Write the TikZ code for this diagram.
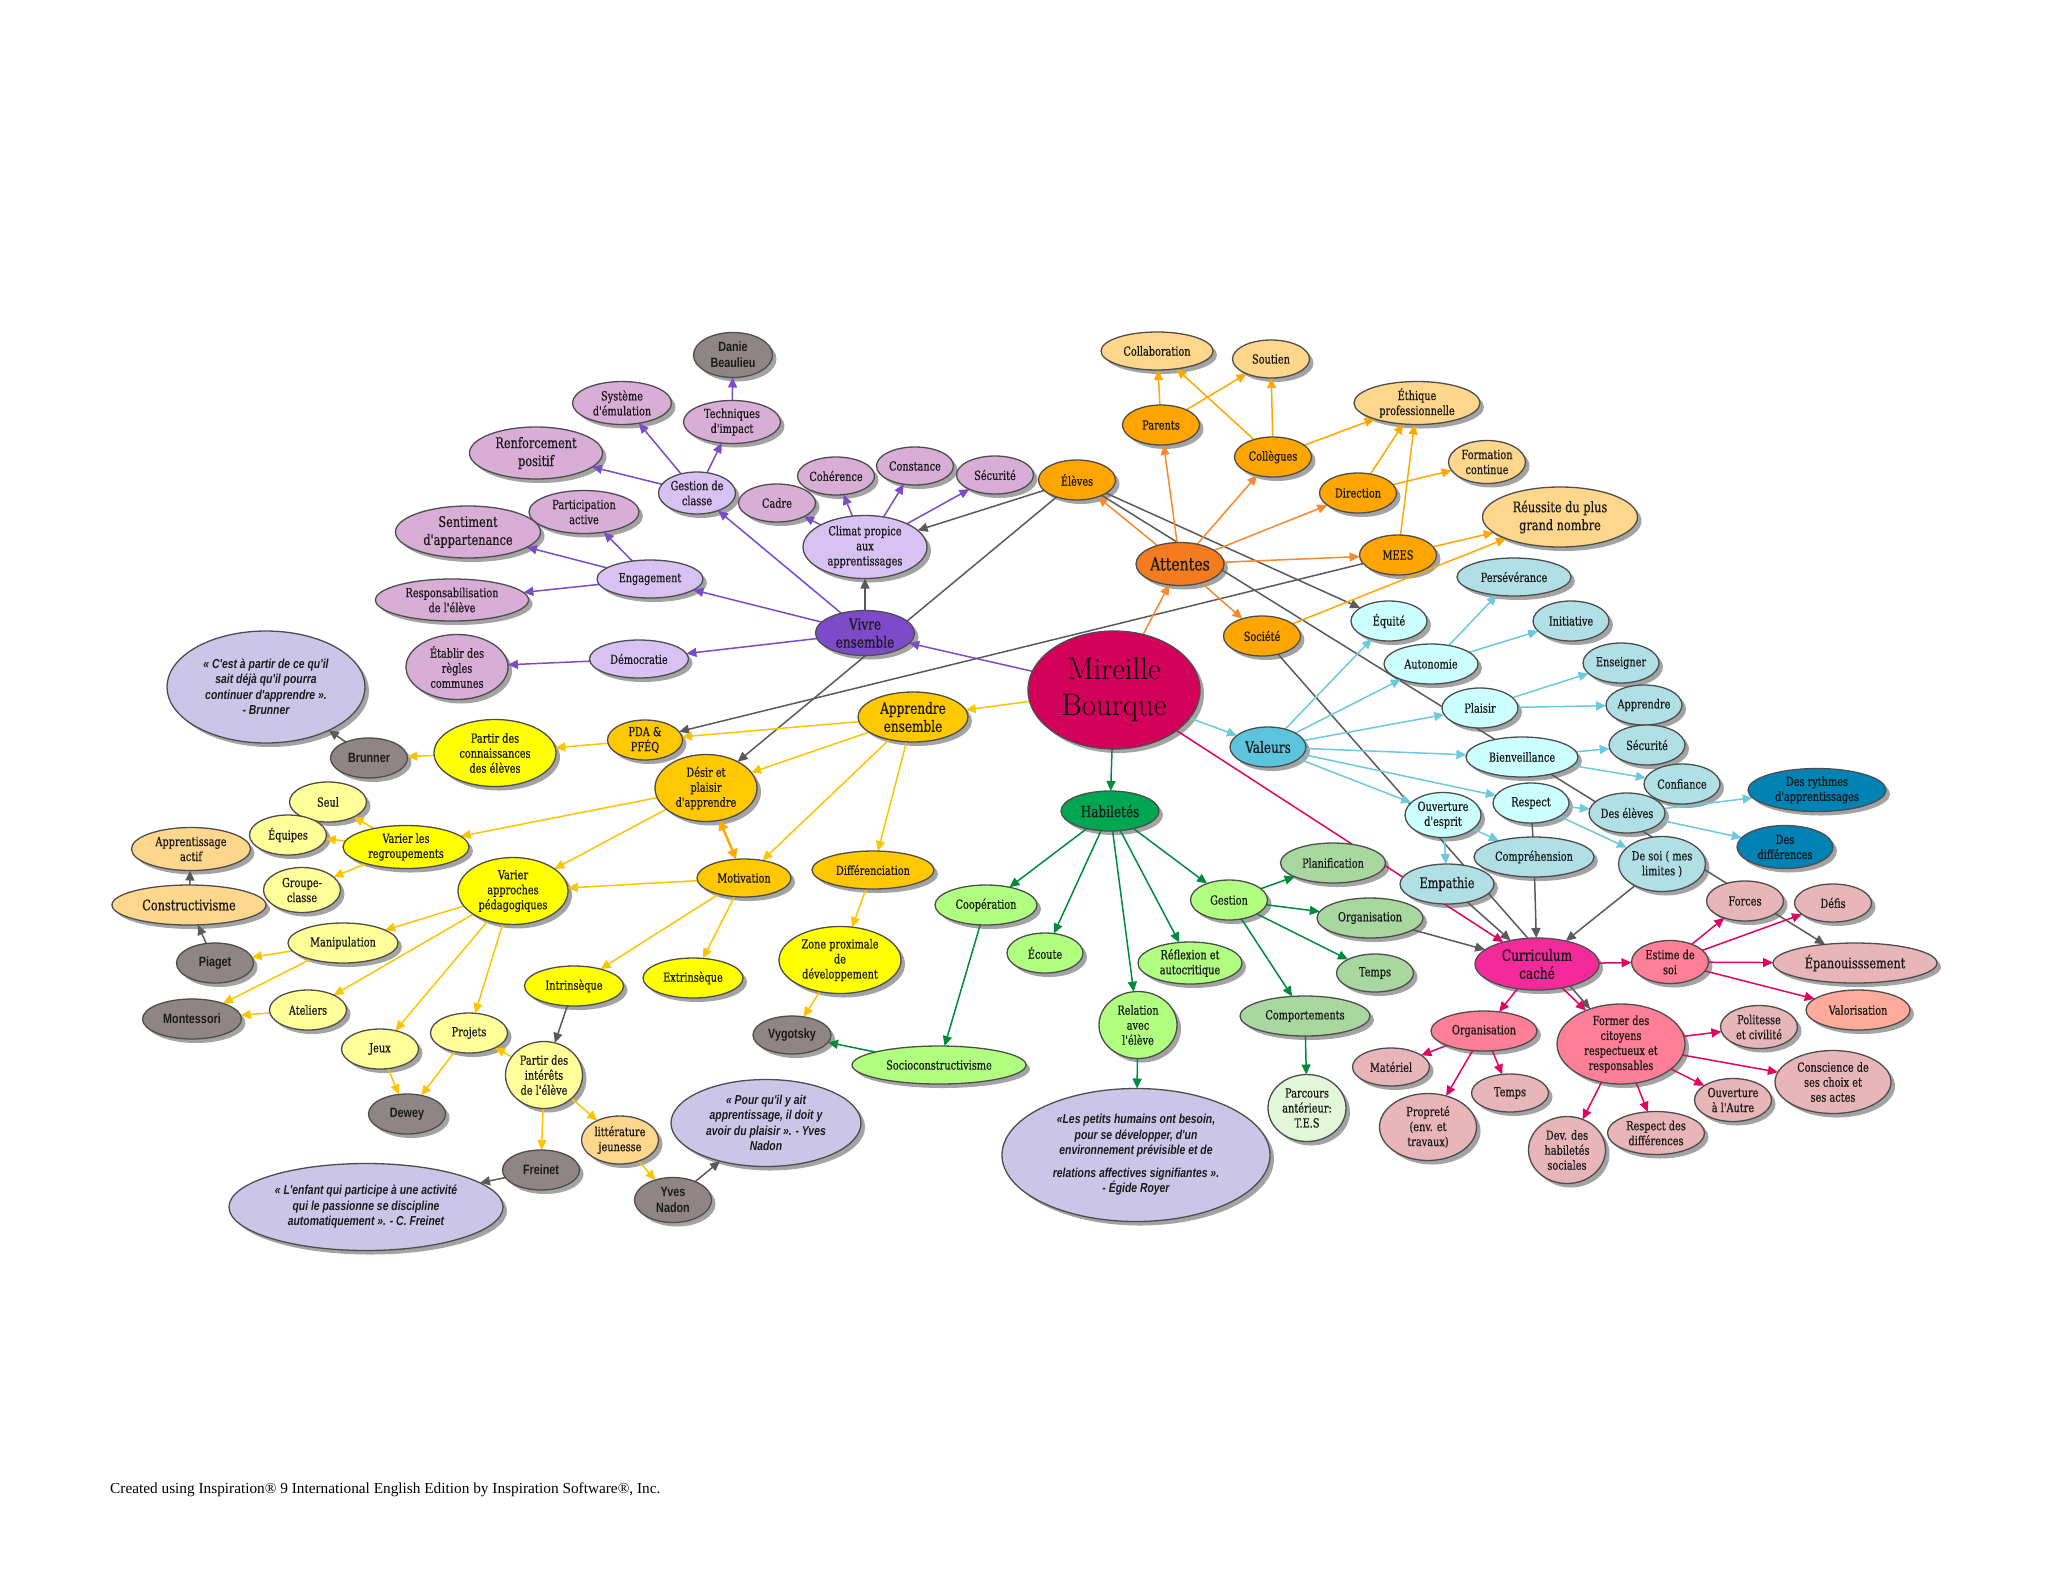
\documentclass[tikz,border=0pt]{standalone}
\usepackage{fontspec}
\usetikzlibrary{shapes.geometric,arrows.meta}
\newfontfamily\nf[FakeStretch=0.78,FakeBold=0.6]{DejaVu Serif}
\newfontfamily\sfq[FakeStretch=0.8]{Liberation Sans}
\newfontfamily\ftr{Liberation Serif}
\pgfdeclarelayer{bgw}
\pgfdeclarelayer{shad}
\pgfdeclarelayer{edges}
\pgfsetlayers{bgw,shad,edges,main}
% node fills
\definecolor{cPurple}{HTML}{7D4AC9}
\definecolor{cLav}{HTML}{D8C2F4}
\definecolor{cMauve}{HTML}{D9AED6}
\definecolor{cGray}{HTML}{8F8585}
\definecolor{cAtt}{HTML}{F47B20}
\definecolor{cOr}{HTML}{FFA500}
\definecolor{cLOr}{HTML}{FFD78C}
\definecolor{cGold}{HTML}{FFC800}
\definecolor{cYel}{HTML}{FFFF00}
\definecolor{cLYel}{HTML}{FFFF99}
\definecolor{cQuote}{HTML}{CBC6E8}
\definecolor{cHab}{HTML}{00A651}
\definecolor{cLGr}{HTML}{B0FF80}
\definecolor{cMGr}{HTML}{A8D8A0}
\definecolor{cVLGr}{HTML}{E2F7D8}
\definecolor{cVal}{HTML}{5CC4DC}
\definecolor{cLCy}{HTML}{CCFFFF}
\definecolor{cPow}{HTML}{B0E0E6}
\definecolor{cDBl}{HTML}{0082B4}
\definecolor{cCur}{HTML}{F52A9A}
\definecolor{cPink}{HTML}{FF7F96}
\definecolor{cLPink}{HTML}{E8B5B8}
\definecolor{cSalm}{HTML}{FFAA9A}
\definecolor{cMir}{HTML}{D2005A}
% connectors
\definecolor{aPur}{HTML}{7D4AC9}
\definecolor{aAtt}{HTML}{F7892E}
\definecolor{aOr}{HTML}{FFA800}
\definecolor{aGold}{HTML}{FFC400}
\definecolor{aGr}{HTML}{008A3E}
\definecolor{aCy}{HTML}{6CCADE}
\definecolor{aPink}{HTML}{E0055E}
\definecolor{aGray}{HTML}{5A5A5A}
\definecolor{olc}{HTML}{4D4D4D}
\definecolor{shc}{HTML}{A3A3A3}
\definecolor{txc}{HTML}{1A1A1A}
\tikzset{
 nb/.style={ellipse, draw=olc, line width=1.3pt, inner sep=0pt, outer sep=0pt},
 tn/.style={font=\nf\fontsize{12.5}{15}\selectfont, align=center, inner sep=0pt, text=txc},
 tm/.style={font=\nf\fontsize{14.5}{18}\selectfont, align=center, inner sep=0pt, text=txc},
 tt/.style={font=\nf\fontsize{15.5}{18}\selectfont, align=center, inner sep=0pt, text=txc},
 tat/.style={font=\nf\fontsize{18}{20}\selectfont, align=center, inner sep=0pt, text=txc},
 tg/.style={font=\sfq\bfseries\fontsize{13.5}{16}\selectfont, align=center, inner sep=0pt, text=txc},
 tq/.style={font=\sfq\bfseries\itshape\fontsize{13}{15.5}\selectfont, align=center, inner sep=0pt, text=txc},
 tmir/.style={font=\rmfamily\fontsize{31}{36}\selectfont, align=center, inner sep=0pt, text=black},
 ar/.style={line width=1.5pt, -{Triangle[length=10pt,width=9pt]}},
 pl/.style={line width=1.5pt},
}
\newcommand\Nd[7]{%
 \begin{pgfonlayer}{shad}\fill[shc,shift={(4,4)}] (#4) ellipse [x radius=#5pt/2, y radius=#6pt/2];\end{pgfonlayer}%
 \node[nb,fill=#1,minimum width=#5pt,minimum height=#6pt,label={[#2]center:{#7}}] (#3) at (#4) {};}
\begin{document}
\begin{tikzpicture}[x=1pt,y=-1pt]
\useasboundingbox (0,0) rectangle (2048,1583);
\begin{pgfonlayer}{bgw}\fill[white] (0,0) rectangle (2048,1583);\end{pgfonlayer}
% ---- centre
\Nd{cMir}{tmir}{mir}{1114,690}{172}{118}{Mireille\\Bourque}
% ---- Vivre ensemble
\Nd{cGray}{tg}{danie}{733,355}{79}{45}{Danie\\Beaulieu}
\Nd{cMauve}{tn}{sysem}{622,403}{99}{43}{Système\\d'émulation}
\Nd{cMauve}{tn}{techn}{732,422}{97}{43}{Techniques\\d'impact}
\Nd{cMauve}{tm}{renf}{536,453}{133}{52}{Renforcement\\positif}
\Nd{cLav}{tn}{gestcl}{697,493}{77}{42}{Gestion de\\classe}
\Nd{cMauve}{tn}{partic}{584,512}{110}{43}{Participation\\active}
\Nd{cMauve}{tm}{sentim}{468,532}{145}{52}{Sentiment\\d'appartenance}
\Nd{cLav}{tn}{engag}{650,579}{106}{38}{Engagement}
\Nd{cMauve}{tn}{respons}{452,600}{153}{42}{Responsabilisation\\de l'élève}
\Nd{cMauve}{tn}{etablir}{457,667}{102}{65}{Établir des\\règles\\communes}
\Nd{cLav}{tn}{democ}{639,659}{99}{38}{Démocratie}
\Nd{cPurple}{tt}{vivre}{865,633}{99}{45}{Vivre\\ensemble}
\Nd{cMauve}{tn}{cadre}{777,503}{77}{38}{Cadre}
\Nd{cMauve}{tn}{coher}{836,476}{77}{38}{Cohérence}
\Nd{cMauve}{tn}{const}{915,466}{77}{38}{Constance}
\Nd{cMauve}{tn}{secur1}{995,475}{77}{38}{Sécurité}
\Nd{cLav}{tn}{climat}{865,547}{124}{63}{Climat propice\\aux\\apprentissages}
% ---- Attentes
\Nd{cLOr}{tn}{collab}{1157,351}{112}{38}{Collaboration}
\Nd{cLOr}{tn}{soutien}{1271,359}{77}{38}{Soutien}
\Nd{cOr}{tn}{parents}{1161,425}{77}{40}{Parents}
\Nd{cOr}{tn}{colleg}{1273,457}{77}{40}{Collègues}
\Nd{cLOr}{tn}{ethique}{1417,403}{126}{43}{Éthique\\professionnelle}
\Nd{cLOr}{tn}{formation}{1487,462}{77}{43}{Formation\\continue}
\Nd{cOr}{tn}{eleves}{1077,480}{77}{40}{Élèves}
\Nd{cOr}{tn}{direction}{1358,493}{77}{40}{Direction}
\Nd{cLOr}{tm}{reussite}{1560,517}{155}{60}{Réussite du plus\\grand nombre}
\Nd{cAtt}{tat}{attentes}{1180,564}{88}{43}{Attentes}
\Nd{cOr}{tn}{mees}{1398,555}{77}{40}{MEES}
\Nd{cOr}{tn}{societe}{1262,636}{77}{40}{Société}
% ---- Valeurs
\Nd{cPow}{tn}{persev}{1514,577}{114}{38}{Persévérance}
\Nd{cLCy}{tn}{equite}{1389,621}{76}{40}{Équité}
\Nd{cPow}{tn}{initiative}{1571,621}{76}{40}{Initiative}
\Nd{cLCy}{tn}{autonomie}{1431,664}{94}{40}{Autonomie}
\Nd{cPow}{tn}{enseigner}{1621,663}{76}{40}{Enseigner}
\Nd{cLCy}{tn}{plaisir}{1480,708}{76}{40}{Plaisir}
\Nd{cPow}{tn}{apprendre}{1644,705}{76}{40}{Apprendre}
\Nd{cVal}{tt}{valeurs}{1268,747}{76}{40}{Valeurs}
\Nd{cPow}{tn}{secur2}{1647,745}{76}{40}{Sécurité}
\Nd{cLCy}{tn}{bienv}{1522,757}{112}{40}{Bienveillance}
\Nd{cPow}{tn}{confiance}{1682,784}{76}{40}{Confiance}
\Nd{cDBl}{tn}{rythmes}{1817,790}{138}{43}{Des rythmes\\d'apprentissages}
\Nd{cLCy}{tn}{respect}{1531,803}{76}{40}{Respect}
\Nd{cPow}{tn}{deseleves}{1627,813}{76}{40}{Des élèves}
\Nd{cLCy}{tn}{ouverture}{1443,815}{76}{45}{Ouverture\\d'esprit}
\Nd{cDBl}{tn}{differences}{1785,847}{96}{43}{Des\\différences}
\Nd{cPow}{tn}{compr}{1534,857}{120}{40}{Compréhension}
\Nd{cPow}{tn}{desoi}{1662,864}{87}{55}{De soi ( mes\\limites )}
\Nd{cPow}{tm}{empathie}{1447,884}{94}{40}{Empathie}
% ---- Curriculum cache
\Nd{cLPink}{tn}{forces}{1745,901}{77}{40}{Forces}
\Nd{cLPink}{tn}{defis}{1833,903}{77}{38}{Défis}
\Nd{cCur}{tt}{curric}{1537,964}{124}{52}{Curriculum\\caché}
\Nd{cPink}{tn}{estime}{1670,962}{77}{43}{Estime de\\soi}
\Nd{cLPink}{tm}{epan}{1855,963}{164}{40}{Épanouisssement}
\Nd{cSalm}{tn}{valoris}{1858,1010}{104}{40}{Valorisation}
\Nd{cPink}{tn}{orgp}{1484,1031}{106}{40}{Organisation}
\Nd{cPink}{tn}{former}{1621,1044}{128}{80}{Former des\\citoyens\\respectueux et\\responsables}
\Nd{cLPink}{tn}{politesse}{1759,1027}{77}{43}{Politesse\\et civilité}
\Nd{cLPink}{tn}{materiel}{1391,1067}{77}{38}{Matériel}
\Nd{cLPink}{tn}{conscience}{1833,1082}{116}{63}{Conscience de\\ses choix et\\ses actes}
\Nd{cLPink}{tn}{tempsp}{1510,1093}{77}{38}{Temps}
\Nd{cLPink}{tn}{ouvautre}{1733,1100}{77}{43}{Ouverture\\à l'Autre}
\Nd{cLPink}{tn}{proprete}{1428,1127}{97}{67}{Propreté\\(env. et\\travaux)}
\Nd{cLPink}{tn}{respdiff}{1656,1133}{97}{43}{Respect des\\différences}
\Nd{cLPink}{tn}{devhab}{1567,1150}{77}{67}{Dev. des\\habiletés\\sociales}
% ---- Habiletes
\Nd{cHab}{tt}{habil}{1110,811}{98}{40}{Habiletés}
\Nd{cMGr}{tn}{planif}{1333,863}{105}{40}{Planification}
\Nd{cLGr}{tn}{coop}{986,905}{102}{40}{Coopération}
\Nd{cLGr}{tn}{gestion}{1229,900}{77}{40}{Gestion}
\Nd{cMGr}{tn}{orgv}{1370,918}{106}{40}{Organisation}
\Nd{cLGr}{tn}{ecoute}{1045,953}{76}{40}{Écoute}
\Nd{cLGr}{tn}{reflex}{1190,963}{104}{42}{Réflexion et\\autocritique}
\Nd{cMGr}{tn}{tempsv}{1375,973}{77}{38}{Temps}
\Nd{cLGr}{tn}{relation}{1138,1025}{78}{67}{Relation\\avec\\l'élève}
\Nd{cMGr}{tn}{comport}{1305,1016}{130}{40}{Comportements}
\Nd{cLGr}{tn}{socio}{939,1065}{174}{38}{Socioconstructivisme}
\Nd{cVLGr}{tn}{parcours}{1307,1108}{78}{67}{Parcours\\antérieur:\\T.E.S}
\Nd{cQuote}{tq}{royer}{1136,1155}{268}{133}{«Les petits humains  ont besoin,\\pour se développer, d'un\\environnement  prévisible et de\\[7pt]relations  affectives  signifiantes ».\\- Égide Royer}
% ---- Apprendre ensemble
\Nd{cGold}{tt}{appens}{913,717}{110}{50}{Apprendre\\ensemble}
\Nd{cGold}{tn}{pda}{645,740}{75}{40}{PDA \&\\PFÉQ}
\Nd{cYel}{tn}{partirconn}{495,753}{122}{67}{Partir des\\connaissances\\des élèves}
\Nd{cGray}{tg}{brunner}{369,758}{77}{40}{Brunner}
\Nd{cQuote}{tq}{bquote}{266,687}{198}{112}{« C'est à partir de ce qu'il\\sait déjà qu'il pourra\\continuer  d'apprendre ».\\- Brunner}
\Nd{cGold}{tn}{desir}{706,788}{102}{67}{Désir et\\plaisir\\d'apprendre}
\Nd{cLYel}{tn}{seul}{328,802}{77}{40}{Seul}
\Nd{cLYel}{tn}{equipes}{288,835}{77}{40}{Équipes}
\Nd{cYel}{tn}{varreg}{406,847}{126}{43}{Varier les\\regroupements}
\Nd{cLOr}{tn}{apact}{191,849}{119}{43}{Apprentissage\\actif}
\Nd{cLYel}{tn}{groupe}{302,890}{77}{45}{Groupe-\\classe}
\Nd{cLOr}{tm}{constr}{189,905}{154}{40}{Constructivisme}
\Nd{cYel}{tn}{varapp}{513,891}{110}{67}{Varier\\approches\\pédagogiques}
\Nd{cGold}{tn}{motiv}{744,878}{94}{38}{Motivation}
\Nd{cGold}{tn}{differ}{873,870}{122}{38}{Différenciation}
\Nd{cLYel}{tn}{manip}{343,943}{110}{40}{Manipulation}
\Nd{cGray}{tg}{piaget}{215,963}{77}{40}{Piaget}
\Nd{cYel}{tn}{zone}{840,960}{122}{67}{Zone proximale\\de\\développement}
\Nd{cYel}{tn}{intrins}{574,986}{99}{40}{Intrinsèque}
\Nd{cYel}{tn}{extrins}{693,978}{100}{40}{Extrinsèque}
\Nd{cLYel}{tn}{ateliers}{308,1010}{77}{40}{Ateliers}
\Nd{cGray}{tg}{montess}{192,1019}{99}{40}{Montessori}
\Nd{cGray}{tg}{vygot}{792,1035}{78}{38}{Vygotsky}
\Nd{cLYel}{tn}{jeux}{380,1049}{77}{40}{Jeux}
\Nd{cLYel}{tn}{projets}{469,1033}{77}{40}{Projets}
\Nd{cLYel}{tn}{partirint}{544,1075}{77}{67}{Partir des\\intérêts\\de l'élève}
\Nd{cGray}{tg}{dewey}{407,1114}{77}{40}{Dewey}
\Nd{cLOr}{tn}{litt}{620,1140}{77}{48}{littérature\\jeunesse}
\Nd{cQuote}{tq}{nquote}{766,1123}{190}{87}{« Pour qu'il y ait\\apprentissage, il doit y\\avoir du plaisir ». - Yves\\Nadon}
\Nd{cGray}{tg}{freinet}{541,1170}{77}{40}{Freinet}
\Nd{cQuote}{tq}{fquote}{366,1207}{274}{87}{« L'enfant qui participe à une activité\\qui le passionne  se discipline\\automatiquement  ». - C. Freinet}
\Nd{cGray}{tg}{nadon}{673,1200}{77}{45}{Yves\\Nadon}
% ---- footer
\node[anchor=west, font=\ftr\fontsize{15.3}{17}\selectfont, inner sep=0pt, text=black] (footer) at (110,1490) {Created using Inspiration® 9 International English Edition by Inspiration Software®, Inc.};
% ---- connectors
\begin{pgfonlayer}{edges}
\foreach \a/\b in {mir/vivre,vivre/engag,vivre/gestcl,vivre/democ,gestcl/renf,gestcl/sysem,gestcl/techn,techn/danie,engag/sentim,engag/partic,engag/respons,democ/etablir,climat/cadre,climat/coher,climat/const,climat/secur1}
  \draw[ar,aPur] (\a) -- (\b);
\foreach \a/\b in {vivre/climat,eleves/climat,eleves/desir,mees/pda,eleves/equite,eleves/epan,societe/former,empathie/curric,compr/curric,desoi/curric,orgv/curric,brunner/bquote,piaget/constr,constr/apact,intrins/partirint,freinet/fquote,nadon/nquote}
  \draw[ar,aGray] (\a) -- (\b);
\draw[pl,aGray] (respect) -- (compr);
\foreach \a/\b in {mir/attentes,attentes/eleves,attentes/parents,attentes/colleg,attentes/direction,attentes/mees,attentes/societe}
  \draw[ar,aAtt] (\a) -- (\b);
\foreach \a/\b in {parents/collab,parents/soutien,colleg/collab,colleg/soutien,colleg/ethique,direction/ethique,direction/formation,mees/ethique,mees/reussite,societe/reussite}
  \draw[ar,aOr] (\a) -- (\b);
\foreach \a/\b in {mir/appens,appens/pda,appens/desir,appens/motiv,appens/differ,pda/partirconn,partirconn/brunner,desir/varreg,desir/varapp,motiv/varapp,motiv/intrins,motiv/extrins,varreg/seul,varreg/equipes,varreg/groupe,varapp/manip,varapp/ateliers,varapp/jeux,varapp/projets,manip/piaget,manip/montess,ateliers/montess,jeux/dewey,projets/dewey,partirint/projets,partirint/freinet,partirint/litt,litt/nadon,differ/zone,zone/vygot}
  \draw[ar,aGold] (\a) -- (\b);
\draw[line width=2.5pt,aOr,{Triangle[length=10pt,width=10pt]}-{Triangle[length=10pt,width=10pt]}] (desir) -- (motiv);
\foreach \a/\b in {mir/habil,habil/coop,habil/ecoute,habil/relation,habil/reflex,habil/gestion,coop/socio,socio/vygot,relation/royer,gestion/planif,gestion/orgv,gestion/tempsv,gestion/comport,comport/parcours}
  \draw[ar,aGr] (\a) -- (\b);
\foreach \a/\b in {mir/valeurs,valeurs/equite,valeurs/autonomie,valeurs/plaisir,valeurs/bienv,valeurs/respect,valeurs/ouverture,autonomie/persev,autonomie/initiative,plaisir/enseigner,plaisir/apprendre,bienv/secur2,bienv/confiance,respect/deseleves,respect/desoi,deseleves/rythmes,deseleves/differences,ouverture/empathie,ouverture/compr}
  \draw[ar,aCy] (\a) -- (\b);
\foreach \a/\b in {mir/curric,curric/estime,curric/orgp,curric/former,estime/forces,estime/defis,estime/epan,estime/valoris,orgp/materiel,orgp/proprete,orgp/tempsp,former/politesse,former/conscience,former/ouvautre,former/respdiff,former/devhab}
  \draw[ar,aPink] (\a) -- (\b);
\end{pgfonlayer}
\end{tikzpicture}
\end{document}
